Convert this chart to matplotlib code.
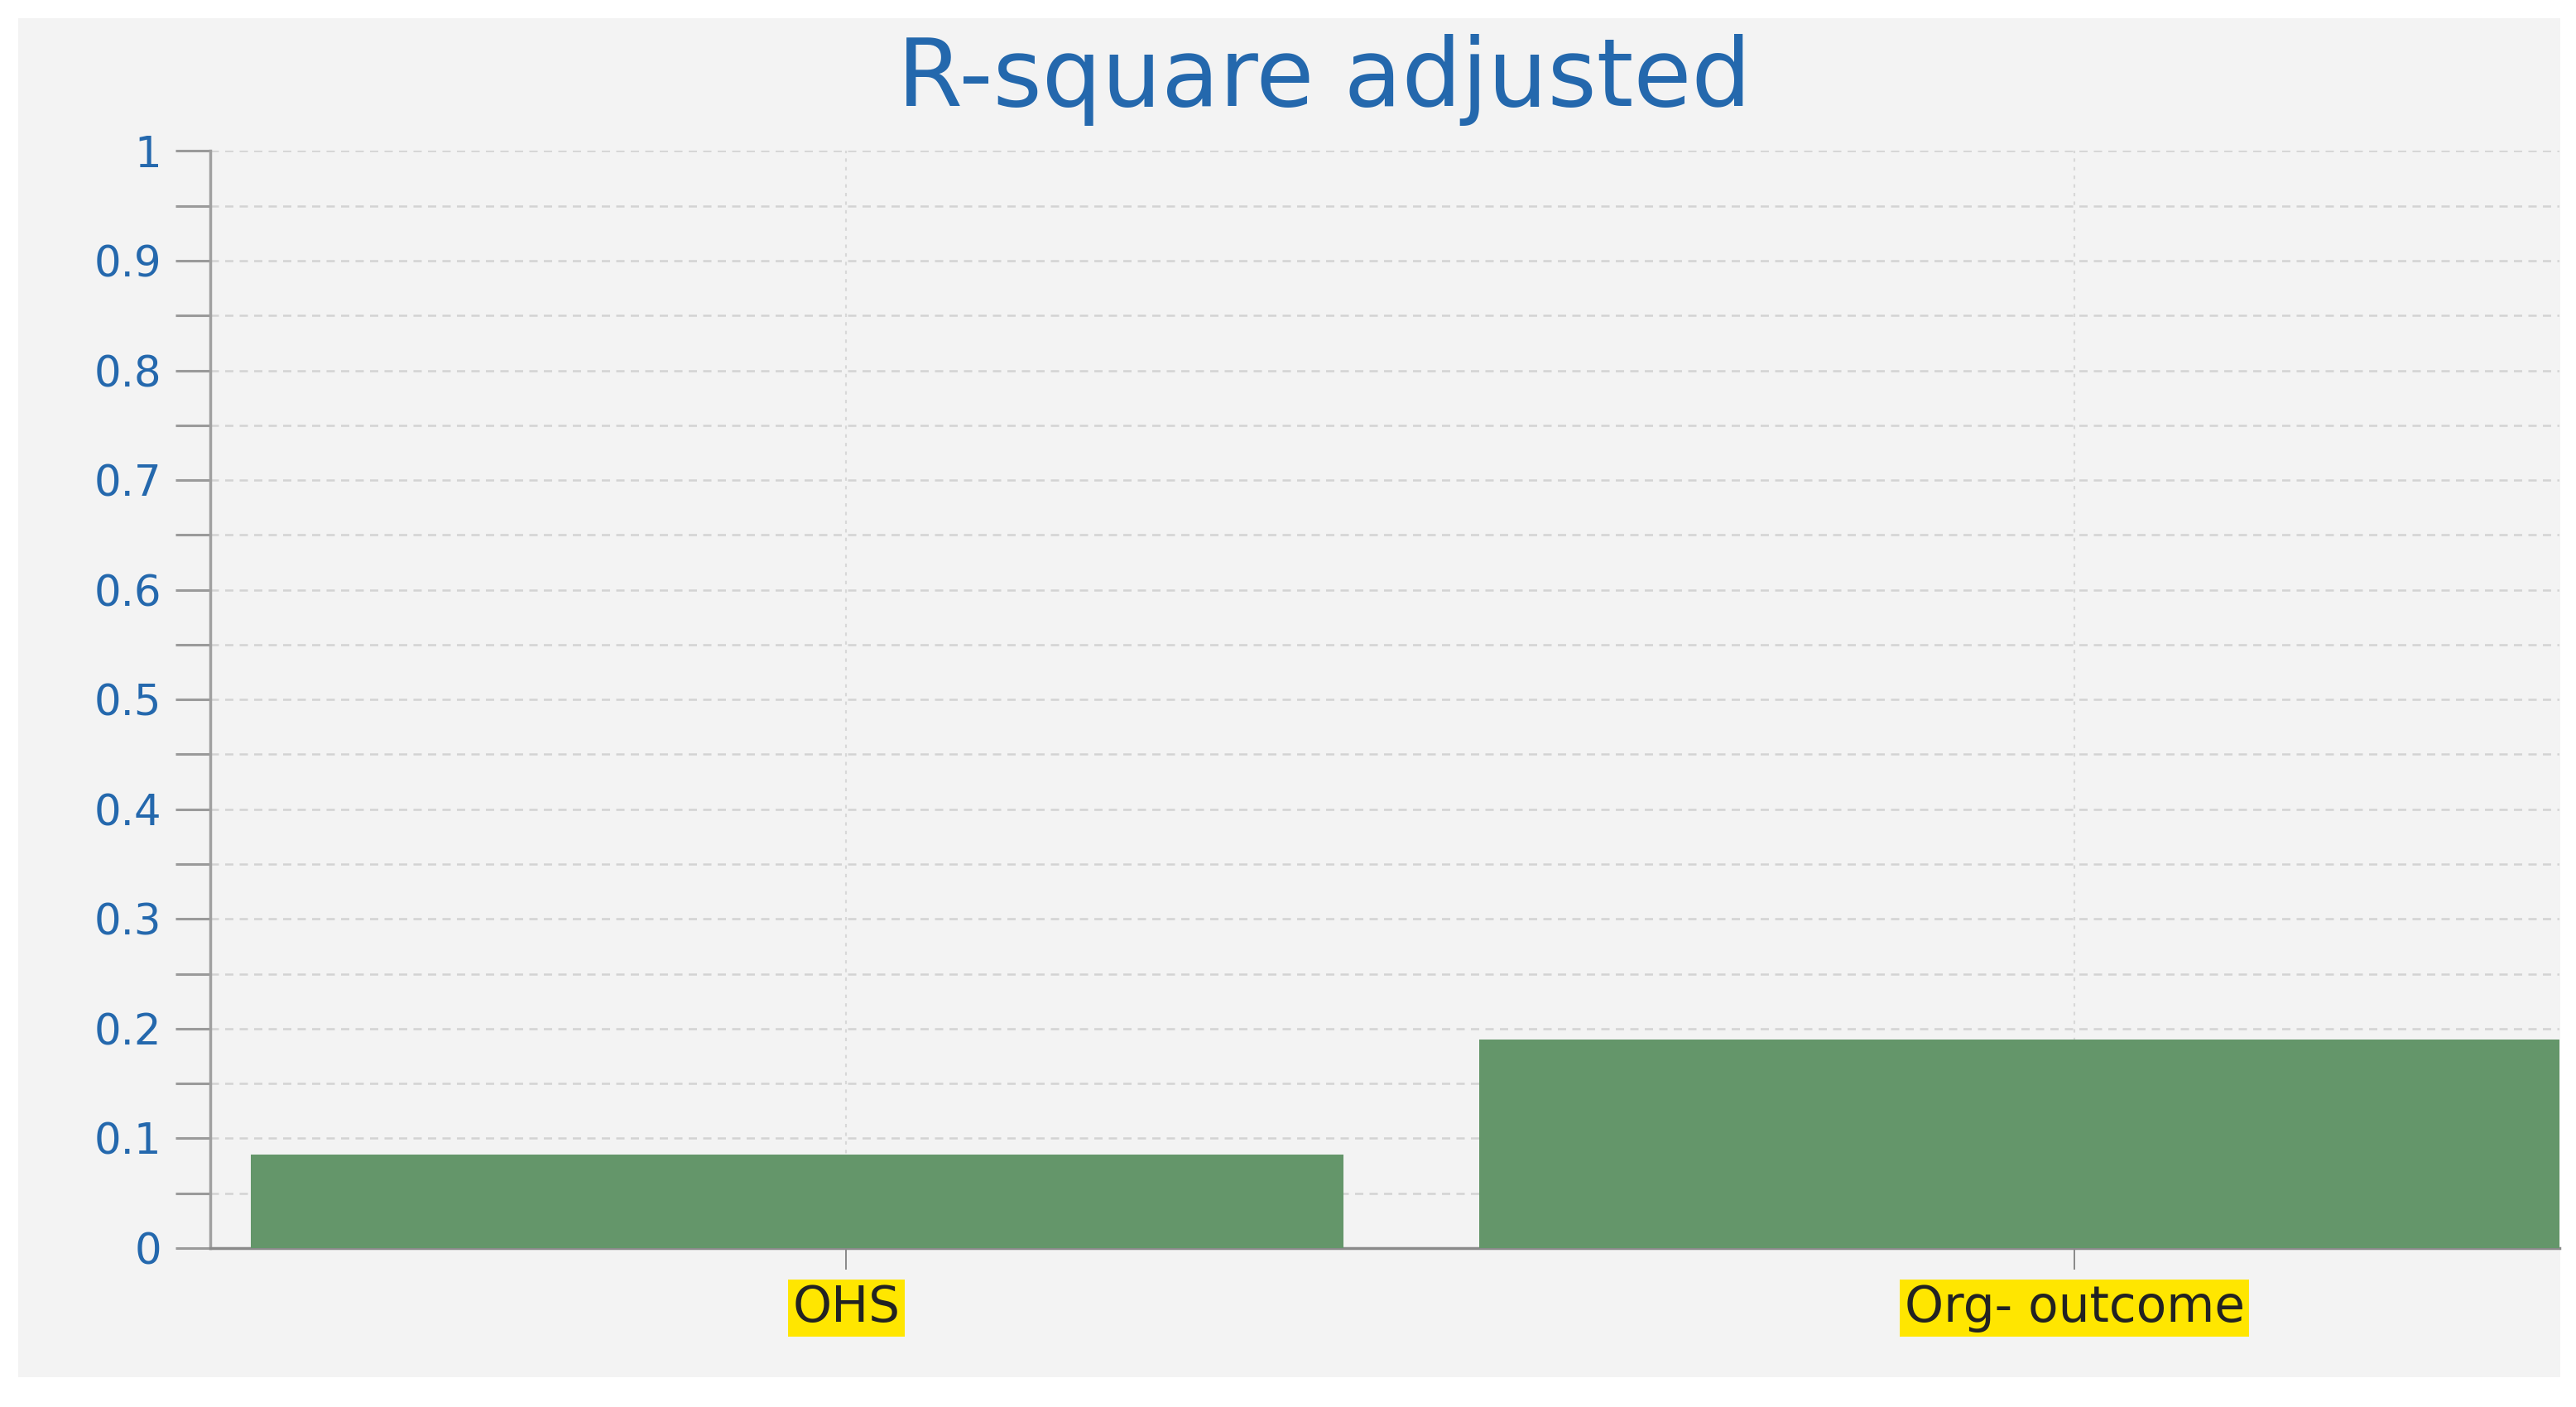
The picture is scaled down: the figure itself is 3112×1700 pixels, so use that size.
import numpy as np
import matplotlib.pyplot as plt
from matplotlib.patches import Rectangle
from matplotlib.ticker import MultipleLocator

categories = ["OHS", "Org- outcome"]
r2_adj = [0.085, 0.19]
y_ticks = [0, 0.1, 0.2, 0.3, 0.4, 0.5, 0.6, 0.7, 0.8, 0.9, 1]
y_tick_labels = ["0", "0.1", "0.2", "0.3", "0.4", "0.5", "0.6", "0.7", "0.8", "0.9", "1"]

plt.rcParams['font.family'] = ['DejaVu Sans']

panel = '#f3f3f3'
blue = '#2468ad'
green = '#64966a'

fig = plt.figure(figsize=(31.12, 17), dpi=100, facecolor='white')
# light panel behind the chart
fig.patches.append(Rectangle((0.007, 0.021), 0.987, 0.966, transform=fig.transFigure,
                             facecolor=panel, edgecolor='none', zorder=-10))

ax = fig.add_axes([0.0816, 0.113, 0.912, 0.7797])
ax.set_facecolor(panel)

x = np.arange(len(categories))
ax.bar(x - 0.485, r2_adj, width=0.89, align='edge', color=green, zorder=3)

ax.set_xlim(-0.518, 1.395)
ax.set_ylim(0, 1)

ax.set_yticks(y_ticks)
ax.set_yticklabels(y_tick_labels, color=blue, fontsize=37)
ax.yaxis.set_minor_locator(MultipleLocator(0.05))
ax.tick_params(axis='y', which='both', length=30, width=2.2, color='#9a9a9a', pad=12)

ax.set_xticks(x)
ax.set_xticklabels(categories, fontsize=43, color='#222222')
ax.tick_params(axis='x', length=19, width=1.2, color='#777777', pad=12)
for lbl in ax.get_xticklabels():
    lbl.set_bbox(dict(facecolor='#ffe600', edgecolor='none', pad=4))

ax.grid(True, axis='y', which='both', linestyle=(0, (4, 3)), color='#d3d3d3', linewidth=1.8, zorder=0)
ax.grid(True, axis='x', linestyle=(0, (2, 3)), color='#d8d8d8', linewidth=1.5, zorder=0)

for s in ['top', 'right']:
    ax.spines[s].set_visible(False)
ax.spines['left'].set_color('#a0a0a0')
ax.spines['left'].set_linewidth(2.5)
ax.spines['bottom'].set_color('#8a8a8a')
ax.spines['bottom'].set_linewidth(2.5)

fig.text(0.514, 0.943, "R-square adjusted", ha='center', va='center',
         fontsize=82, color=blue)

fig.savefig('out.png', dpi=100, facecolor='white')
